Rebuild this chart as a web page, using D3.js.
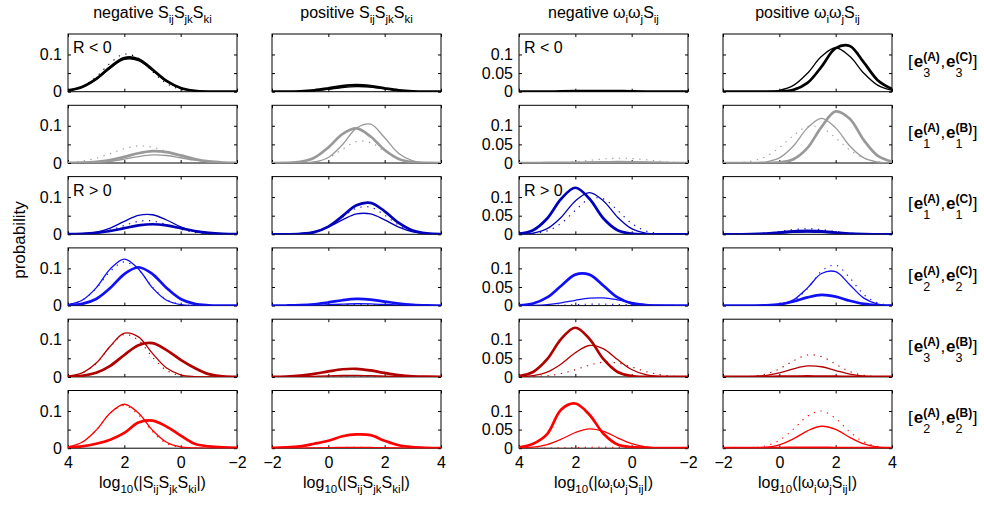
<!DOCTYPE html>
<html>
<head>
<meta charset="utf-8">
<script src="https://cdn.jsdelivr.net/npm/d3@7"></script>
<style>
  html, body { margin: 0; padding: 0; background: #fff; }
  svg { display: block; font-family: "Liberation Sans", Arial, Helvetica, sans-serif; }
</style>
</head>
<body>
<svg id="chart" width="984" height="506"></svg>
<script>
// x grid (log10 of the magnitude) shared by every distribution
const logGrid = [-2, -1.5, -1, -0.5, 0, 0.5, 1, 1.5, 2, 2.5, 3, 3.5, 4];

// tick values and labels
const xTickValues = [-2, 0, 2, 4];
const yTickValues = [0, 0.05, 0.1];
const yTickLabelsByColumn = [["0", "", "0.1"], null, ["0", "0.05", "0.1"], null];

// text
const columnTitles = ["negative S_{ij}S_{jk}S_{ki}", "positive S_{ij}S_{jk}S_{ki}",
                      "negative ω_{i}ω_{j}S_{ij}", "positive ω_{i}ω_{j}S_{ij}"];
const xAxisTitles = ["log_{10}(|S_{ij}S_{jk}S_{ki}|)", "log_{10}(|S_{ij}S_{jk}S_{ki}|)",
                     "log_{10}(|ω_{i}ω_{j}S_{ij}|)", "log_{10}(|ω_{i}ω_{j}S_{ij}|)"];
const yAxisTitle = "probability";
const pairSubs = [["3", "3"], ["1", "1"], ["1", "1"], ["2", "2"], ["3", "3"], ["2", "2"]];
const pairSups = [["A", "C"], ["A", "B"], ["A", "C"], ["A", "C"], ["A", "B"], ["A", "B"]];
const signNotes = [{ row: 0, col: 0, text: "R < 0" }, { row: 0, col: 2, text: "R < 0" },
                   { row: 2, col: 0, text: "R > 0" }, { row: 2, col: 2, text: "R > 0" }];

// ---- negative S_ij S_jk S_ki (rows top to bottom) ----
const negSSS_thick = [
  [0,0,0.0004,0.0024,0.0099,0.0289,0.0597,0.0874,0.0905,0.0662,0.0343,0.0126,0.0033],
  [0.0003,0.0013,0.0043,0.0108,0.0204,0.0293,0.0318,0.0262,0.0164,0.0077,0.0028,0.0008,0.0002],
  [0.0003,0.0012,0.0037,0.0088,0.0164,0.0238,0.027,0.0238,0.0164,0.0088,0.0037,0.0012,0.0003],
  [0,0.0001,0.0008,0.0045,0.0177,0.0472,0.0848,0.103,0.0848,0.0472,0.0177,0.0045,0.0008],
  [0.0003,0.0015,0.0075,0.024,0.046,0.072,0.0907,0.0853,0.0589,0.0298,0.0111,0.003,0.0006],
  [0.001,0.002,0.005,0.012,0.034,0.058,0.074,0.069,0.041,0.023,0.012,0.005,0.002]
];
const negSSS_thin = [
  [0,0,0.0004,0.0023,0.0095,0.0277,0.0571,0.0837,0.0866,0.0634,0.0328,0.012,0.0031],
  [0.0003,0.001,0.0031,0.0075,0.0141,0.0202,0.0218,0.0173,0.0104,0.0047,0.0016,0.0004,0.0001],
  [0,0.0004,0.0019,0.0073,0.0199,0.0384,0.0525,0.0508,0.0347,0.0168,0.0057,0.0014,0.0002],
  [0,0,0,0.0003,0.0026,0.0143,0.0476,0.0983,0.125,0.0983,0.0476,0.0143,0.0026],
  [0,0,0.0001,0.0009,0.0057,0.0238,0.0631,0.1076,0.1176,0.0824,0.0371,0.0107,0.002],
  [0,0,0,0.0005,0.0034,0.0159,0.0485,0.0945,0.118,0.0945,0.0485,0.0159,0.0034]
];
const negSSS_dot = [
  [0,0,0.0001,0.0011,0.006,0.022,0.054,0.09,0.101,0.077,0.04,0.0138,0.0033],
  [0.0001,0.0007,0.0026,0.0075,0.0173,0.0307,0.0425,0.0458,0.0384,0.0251,0.0128,0.0051,0.0016],
  [0,0.0003,0.0013,0.005,0.0136,0.0263,0.036,0.0348,0.0238,0.0115,0.0039,0.001,0.0001],
  [0,0,0,0.0005,0.0036,0.0165,0.0495,0.0955,0.1175,0.092,0.046,0.0145,0.003],
  [0,0,0,0.0004,0.0036,0.0174,0.0527,0.0986,0.1139,0.0813,0.0358,0.0098,0.0016],
  [0,0,0,0.0002,0.0022,0.0128,0.0444,0.0896,0.1148,0.0945,0.049,0.016,0.0035]
];

// ---- positive S_ij S_jk S_ki ----
const posSSS_thick = [
  [0,0.0002,0.0011,0.0038,0.009,0.0151,0.018,0.0151,0.009,0.0038,0.0011,0.0002,0],
  [0,0.0004,0.0032,0.0143,0.0418,0.0777,0.0928,0.0711,0.0349,0.011,0.0022,0.0003,0],
  [0,0.0001,0.0012,0.0059,0.0207,0.0489,0.0782,0.0845,0.0618,0.0306,0.0102,0.0023,0.0004],
  [0,0.0003,0.0012,0.0037,0.0085,0.0144,0.0179,0.0163,0.0109,0.0054,0.0019,0.0005,0.0001],
  [0.0002,0.001,0.0033,0.008,0.0147,0.0205,0.0217,0.0174,0.0106,0.0049,0.0017,0.0005,0.0001],
  [0.001,0.002,0.005,0.012,0.02,0.032,0.037,0.035,0.02,0.008,0.003,0.001,0]
];
const posSSS_thin = [
  [0,0.0001,0.0007,0.0026,0.0065,0.0112,0.0139,0.0125,0.008,0.0035,0.001,0.0002,0],
  [0,0,0.0003,0.0027,0.0149,0.049,0.0937,0.1044,0.0677,0.0256,0.0057,0.0007,0.0001],
  [0,0.0003,0.0017,0.0068,0.0193,0.0386,0.0546,0.0546,0.0386,0.0193,0.0068,0.0017,0.0003],
  [0,0.0001,0.0003,0.001,0.0024,0.004,0.005,0.0045,0.003,0.0015,0.0005,0.0001,0],
  [0,0.0002,0.0006,0.0015,0.0027,0.0037,0.004,0.0032,0.0019,0.0009,0.0003,0.0001,0],
  [0,0.0001,0.0003,0.0008,0.0015,0.0021,0.0023,0.0019,0.0012,0.0006,0.0002,0,0]
];
const posSSS_dot = [
  [0,0.0001,0.0009,0.0034,0.0081,0.0134,0.016,0.0134,0.0081,0.0034,0.0009,0.0001,0],
  [0,0,0.0004,0.0031,0.0138,0.0364,0.0576,0.0547,0.0313,0.0107,0.0022,0.0003,0],
  [0,0.0002,0.0012,0.006,0.02,0.0455,0.0699,0.0727,0.0512,0.0244,0.0079,0.0017,0.0003],
  [0,0,0.0002,0.0006,0.0014,0.0024,0.003,0.0027,0.0018,0.0009,0.0003,0,0],
  [0,0.0001,0.0003,0.0008,0.0015,0.0021,0.0023,0.0019,0.0012,0.0006,0.0002,0,0],
  [0,0.0001,0.0003,0.0008,0.0015,0.0021,0.0023,0.0019,0.0012,0.0006,0.0002,0,0]
];

// ---- negative ω_i ω_j S_ij ----
const negWWS_thick = [
  [0,0,0.0002,0.0005,0.001,0.0016,0.0019,0.0018,0.0013,0.0007,0.0003,0.0001,0],
  [0,0,0.0001,0.0003,0.0006,0.0009,0.001,0.0008,0.0005,0.0002,0.0001,0,0],
  [0,0,0,0,0.0016,0.011,0.0424,0.0954,0.125,0.0954,0.0424,0.011,0.0016],
  [0,0,0.0001,0.001,0.0058,0.0219,0.0534,0.0832,0.0832,0.0534,0.0219,0.0058,0.001],
  [0,0,0,0,0.0022,0.0133,0.0475,0.1023,0.132,0.1023,0.0475,0.0133,0.0022],
  [0,0,0,0.001,0.003,0.01,0.039,0.09,0.12,0.104,0.038,0.012,0.002]
];
const negWWS_thin = [
  [0,0,0.0001,0.0003,0.0005,0.0008,0.001,0.0009,0.0006,0.0003,0.0001,0,0],
  [0.0002,0.0006,0.0015,0.0027,0.0037,0.004,0.0033,0.0022,0.0011,0.0004,0.0001,0,0],
  [0,0,0.0004,0.0032,0.0151,0.046,0.0897,0.112,0.0897,0.046,0.0151,0.0032,0.0004],
  [0,0.0002,0.0011,0.0035,0.0086,0.0155,0.0205,0.0199,0.0142,0.0074,0.0028,0.0008,0.0002],
  [0,0.0002,0.0012,0.0058,0.0198,0.0465,0.0755,0.0844,0.065,0.0346,0.0127,0.0032,0.0006],
  [0,0.0001,0.0008,0.0037,0.0121,0.0279,0.0452,0.0519,0.0422,0.0242,0.0099,0.0028,0.0006]
];
const negWWS_dot = [
  [0,0,0,0.0001,0.0002,0.0003,0.0004,0.0003,0.0002,0.0001,0,0,0],
  [0.0007,0.0021,0.0049,0.0087,0.012,0.0129,0.0109,0.0071,0.0036,0.0014,0.0004,0.0001,0],
  [0,0.0003,0.0019,0.0091,0.0295,0.0644,0.0952,0.0952,0.0644,0.0295,0.0091,0.0019,0.0003],
  [0,0,0.0002,0.0007,0.0016,0.003,0.0039,0.0038,0.0027,0.0014,0.0005,0.0002,0],
  [0.0004,0.0018,0.006,0.0145,0.0267,0.0373,0.0395,0.0316,0.0193,0.0089,0.0031,0.0009,0.0002],
  [0,0,0.0003,0.0008,0.0016,0.0024,0.0028,0.0025,0.0018,0.001,0.0004,0.0001,0]
];

// ---- positive ω_i ω_j S_ij ----
const posWWS_thick = [
  [0,0,0,0.0001,0.0006,0.005,0.0237,0.0675,0.117,0.123,0.0785,0.0303,0.0072],
  [0,0,0,0,0.0015,0.0102,0.0407,0.097,0.1386,0.1189,0.0613,0.0189,0.0035],
  [0,0.0002,0.0008,0.0022,0.0049,0.0077,0.009,0.0077,0.0049,0.0022,0.0008,0.0002,0],
  [0,0,0.0001,0.0007,0.0034,0.0109,0.0222,0.0289,0.0242,0.013,0.0045,0.001,0.0001],
  [0,0,0.0001,0.0003,0.0006,0.001,0.0012,0.001,0.0006,0.0003,0.0001,0,0],
  [0,0,0.0001,0.0003,0.0006,0.001,0.0012,0.001,0.0006,0.0003,0.0001,0,0]
];
const posWWS_thin = [
  [0,0,0,0,0.0037,0.0169,0.0497,0.095,0.118,0.095,0.0497,0.0169,0.0037],
  [0,0,0.0003,0.0025,0.0137,0.0457,0.0943,0.12,0.0943,0.0457,0.0137,0.0025,0.0003],
  [0,0.0001,0.0005,0.0015,0.0032,0.0051,0.006,0.0051,0.0032,0.0015,0.0005,0.0001,0],
  [0,0,0,0.0003,0.0029,0.0153,0.0476,0.0862,0.091,0.056,0.02,0.0042,0.0005],
  [0,0.0001,0.0008,0.0036,0.0107,0.0216,0.0295,0.0273,0.0171,0.0072,0.0021,0.0004,0.0001],
  [0,0.0001,0.0004,0.0022,0.009,0.025,0.0466,0.0589,0.0504,0.0291,0.0114,0.003,0.0005]
];
const posWWS_dot = [
  [],
  [0.0002,0.0011,0.005,0.0168,0.0411,0.0739,0.0976,0.0946,0.0674,0.0352,0.0135,0.0038,0.0008],
  [0,0.0002,0.0009,0.0032,0.0075,0.0126,0.015,0.0126,0.0075,0.0032,0.0009,0.0002,0],
  [0,0,0,0.0002,0.0022,0.0132,0.0458,0.0925,0.1088,0.0746,0.0297,0.0069,0.0009],
  [0,0.0002,0.0016,0.0071,0.0214,0.0431,0.059,0.0545,0.0341,0.0145,0.0041,0.0008,0.0001],
  [0,0.0002,0.0012,0.0059,0.021,0.0511,0.086,0.0998,0.0799,0.044,0.0168,0.0044,0.0008]
];

// ---------------------------------------------------------------------------
const columns = [
  { thick: negSSS_thick, thin: negSSS_thin, dot: negSSS_dot, reversed: true },
  { thick: posSSS_thick, thin: posSSS_thin, dot: posSSS_dot, reversed: false },
  { thick: negWWS_thick, thin: negWWS_thin, dot: negWWS_dot, reversed: true },
  { thick: posWWS_thick, thin: posWWS_thin, dot: posWWS_dot, reversed: false }
];
const rowColors = ["#000000", "#999999", "#0000b8", "#1010f4", "#b00000", "#ff0000"];

const colLeft = [68, 272, 519, 723];
const panelW = 169;
const rowTop0 = 34, rowStep = 71.3, panelH = 57.7;
const yMax = 0.155;
const fontMain = 16;

const svg = d3.select("#chart");
svg.append("rect").attr("width", 984).attr("height", 506).attr("fill", "#fff");

// text with _{...} subscripts
function richText(sel, str, size, subSize, subShift) {
  const parts = str.split(/(_\{[^}]*\})/).filter(s => s.length);
  let shifted = false;
  parts.forEach(p => {
    if (p.startsWith("_{")) {
      sel.append("tspan").attr("font-size", subSize).attr("dy", shifted ? 0 : subShift).text(p.slice(2, -1));
      shifted = true;
    } else {
      sel.append("tspan").attr("font-size", size).attr("dy", shifted ? -subShift : 0).text(p);
      shifted = false;
    }
  });
}

const lineGen = (x, y) => d3.line()
  .x((d, i) => x(logGrid[i]))
  .y(d => y(d))
  .curve(d3.curveCatmullRom.alpha(0.5));

columns.forEach((col, c) => {
  const left = colLeft[c];
  const x = d3.scaleLinear()
    .domain(col.reversed ? [4, -2] : [-2, 4])
    .range([left, left + panelW]);

  for (let r = 0; r < 6; r++) {
    const top = rowTop0 + r * rowStep;
    const bottom = top + panelH;
    const y = d3.scaleLinear().domain([0, yMax]).range([bottom, top]);
    const g = svg.append("g");
    const clipId = `clip-${c}-${r}`;
    svg.append("clipPath").attr("id", clipId)
      .append("rect").attr("x", left).attr("y", top).attr("width", panelW).attr("height", panelH);

    // frame
    g.append("rect").attr("x", left).attr("y", top).attr("width", panelW).attr("height", panelH)
      .attr("fill", "#fff").attr("stroke", "#000").attr("stroke-width", 1);

    // inward ticks on all four sides
    const isBottomRow = r === 5;
    const axB = d3.axisBottom(x).tickValues(xTickValues).tickSizeInner(-3).tickSizeOuter(0).tickPadding(8)
      .tickFormat(isBottomRow ? d3.format("d") : () => "");
    const axT = d3.axisTop(x).tickValues(xTickValues).tickSizeInner(-3).tickSizeOuter(0).tickFormat(() => "");
    const labels = yTickLabelsByColumn[c];
    const axL = d3.axisLeft(y).tickValues(yTickValues).tickSizeInner(-3).tickSizeOuter(0).tickPadding(6)
      .tickFormat((d, i) => labels ? labels[i] : "");
    const axR = d3.axisRight(y).tickValues(yTickValues).tickSizeInner(-3).tickSizeOuter(0).tickFormat(() => "");

    [[axB, `translate(0,${bottom})`], [axT, `translate(0,${top})`],
     [axL, `translate(${left},0)`], [axR, `translate(${left + panelW},0)`]].forEach(([ax, tr]) => {
      const a = g.append("g").attr("transform", tr).call(ax);
      a.select(".domain").remove();
      a.selectAll("line").attr("stroke", "#000").attr("stroke-width", 1);
      a.selectAll("text").attr("font-size", fontMain).attr("fill", "#000")
        .attr("font-family", '"Liberation Sans", Arial, sans-serif');
    });

    // distributions
    const lg = lineGen(x, y);
    const curves = g.append("g").attr("clip-path", `url(#${clipId})`);
    const color = rowColors[r];
    if (col.dot[r].length) {
      curves.append("path").attr("d", lg(col.dot[r])).attr("fill", "none")
        .attr("stroke", color).attr("stroke-width", 1.1).attr("stroke-dasharray", "1.3,5.5");
    }
    curves.append("path").attr("d", lg(col.thin[r])).attr("fill", "none")
      .attr("stroke", color).attr("stroke-width", 1.3);
    curves.append("path").attr("d", lg(col.thick[r])).attr("fill", "none")
      .attr("stroke", color).attr("stroke-width", 2.7).attr("stroke-linejoin", "round");
  }

  // column title
  const t = svg.append("text").attr("x", left + panelW / 2).attr("y", 18)
    .attr("text-anchor", "middle").attr("fill", "#000");
  richText(t, columnTitles[c], 16, 11.5, 5);

  // x axis title
  const xt = svg.append("text").attr("x", left + panelW / 2).attr("y", 488)
    .attr("text-anchor", "middle").attr("fill", "#000");
  richText(xt, xAxisTitles[c], 16, 11.5, 5);
});

// y axis title
svg.append("text").attr("transform", "translate(25,240) rotate(-90)")
  .attr("text-anchor", "middle").attr("font-size", 17).attr("fill", "#000").text(yAxisTitle);

// R sign notes
signNotes.forEach(n => {
  svg.append("text").attr("x", colLeft[n.col] + 5).attr("y", rowTop0 + n.row * rowStep + 19)
    .attr("font-size", 16).attr("fill", "#000").text(n.text);
});

// eigenvector pair labels on the right
function pairLabel(x0, yBase, subs, sups) {
  const g = svg.append("g");
  let cx = x0;
  const put = (txt, size, bold, dy) => {
    const t = g.append("text").attr("x", cx).attr("y", yBase + dy).attr("font-size", size)
      .attr("font-weight", bold ? "bold" : "normal").attr("fill", "#000").text(txt);
    return t.node().getComputedTextLength();
  };
  cx += put("[", 17, false, 0) + 1;
  for (let k = 0; k < 2; k++) {
    cx += put("e", 17, true, 0);
    const w1 = put(subs[k], 12.5, false, 10);
    const w2 = put("(" + sups[k] + ")", 12, true, -6);
    cx += Math.max(w1, w2) + 0.5;
    if (k === 0) cx += put(",", 17, false, 0) + 1;
  }
  put("]", 17, false, 0);
}
for (let r = 0; r < 6; r++) {
  const mid = rowTop0 + r * rowStep + panelH / 2;
  pairLabel(908, mid + 4, pairSubs[r], pairSups[r]);
}
</script>
</body>
</html>
